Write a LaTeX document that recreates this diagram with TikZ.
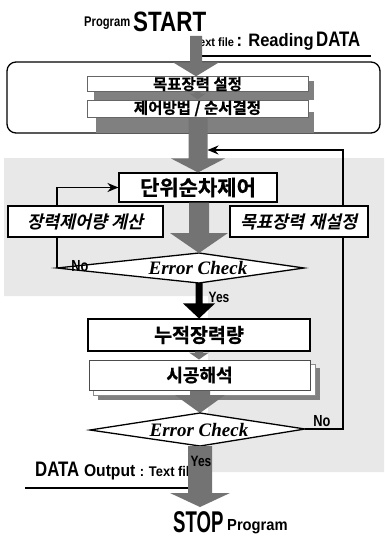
\documentclass[tikz,border=0pt]{standalone}
\usepackage{fontspec}
\setmainfont{Liberation Serif}
\newfontfamily\condA{Liberation Sans Bold}[FakeStretch=0.8]
\newfontfamily\condB{Liberation Sans Bold}[FakeStretch=0.92]
\newfontfamily\condC{Liberation Sans Bold}[FakeStretch=0.62]
\newfontfamily\kr{Noto Sans CJK KR Bold}[FakeBold=0.8]
\newfontfamily\krit{Noto Sans CJK KR Bold}[FakeSlant=0.22]
\usetikzlibrary{arrows.meta,calc}
\newcommand\varrow[6]{%
  \path #2 coordinate (va) #3 coordinate (vb);
  \fill[#1] ($(va -| vb)+(-#4,0)$) -- ($(vb)+(-#4,-#6)$) -- ($(vb)+(-#5,-#6)$) -- (vb)
    -- ($(vb)+(#5,-#6)$) -- ($(vb)+(#4,-#6)$) -- ($(va -| vb)+(#4,0)$) -- cycle;}
\begin{document}
\begin{tikzpicture}[x=1pt,y=-1pt,
  bx/.style={draw=black, fill=white, line width=1.1pt, inner sep=0pt},
  lbx/.style={draw=black!60, fill=white, line width=1pt, inner sep=0pt},
  shd/.style={fill=black!50},
  garr/.style={fill=black!55},
  barr/.style={fill=black},
  lnk/.style={draw=black, line width=1.6pt},
  dia/.style={draw=black, fill=white, line width=1.3pt},
  txt/.style={inner sep=0pt},
  ec/.style={inner sep=0pt, font=\bfseries\itshape\fontsize{19}{19}\selectfont}]
\useasboundingbox (0,0) rectangle (384,543);
\fill[white] (0,0) rectangle (384,543);
% stippled background
\fill[black!9] (4,158) -- (384,158) -- (384,472) -- (208,472) -- (208,296) -- (4,296) -- cycle;

% header texts
\node[txt, anchor=base west] (prog1) at (84,27) {\condA\fontsize{14}{14}\selectfont Program};
\node[txt, anchor=base west] (start) at (133,32) {\condA\fontsize{28}{28}\selectfont START};
\node[txt, anchor=base west] (rdata) at (193,47) {\condB{\fontsize{12}{12}\selectfont Text file} {\fontsize{18}{18}\selectfont : Reading} {\condA\fontsize{21}{21}\selectfont DATA}};
\draw[line width=1.2pt] (193,56) -- (371,56);

% top frame
\draw[line width=1.3pt, fill=white, rounded corners=9pt] (7,62) rectangle (380,133);
\fill[shd] (94,81) rectangle (314,100);
\fill[shd] (96,112) rectangle (314,133);
\node[lbx, minimum width=221pt, minimum height=14pt] (b1) at (197.5,84) {\kr\fontsize{15.5}{15.5}\selectfont 목표장력 설정};
\node[lbx, minimum width=221pt, minimum height=17pt] (b2) at (197.5,108.5) {\kr\fontsize{15.5}{15.5}\selectfont 제어방법 / 순서결정};

\coordinate (s0) at (196,36);
\varrow{garr}{(s0)}{(b1.north -| s0)}{6}{23}{14}
\varrow{garr}{(b1.south)}{(b2.north)}{3}{8}{6}

% unit control box and arrow into it
\node[bx, minimum width=158pt, minimum height=29pt] (bu) at (198,187.5) {\kr\fontsize{21}{21}\selectfont 단위순차제어};
\varrow{garr}{(b2.south -| bu.north)}{(bu.north)}{9.5}{27}{14}
\coordinate (jn) at (207.5,150);

% diamonds
\coordinate (d1w) at (57,268); \coordinate (d1n) at (199,253);
\coordinate (d1e) at (304,268); \coordinate (d1s) at (199,283);
\coordinate (d2w) at (90,430); \coordinate (d2n) at (200,413);
\coordinate (d2e) at (305,429); \coordinate (d2s) at (200,446);
\coordinate (rt) at (343,150);

% feedback lines
\draw[lnk, -{Stealth[length=11pt,width=9pt]}] (d1w) |- (bu.west);
\draw[lnk, -{Stealth[length=11pt,width=9pt]}] (d2e) -| (rt) -- (jn);

\node[bx, minimum width=155pt, minimum height=31pt] (bl) at (85.5,221.5) {\krit\fontsize{17.5}{17.5}\selectfont 장력제어량 계산};
\node[bx, minimum width=138pt, minimum height=31pt] (br) at (299,221.5) {\krit\fontsize{17.5}{17.5}\selectfont 목표장력 재설정};

\filldraw[dia] (d1w) -- (d1n) -- (d1e) -- (d1s) -- cycle;
\node[ec] (e1) at (198,268) {Error Check};
\varrow{garr}{(bu.south -| d1n)}{(d1n)}{10}{29}{20}

% lower boxes
\node[bx, minimum width=222pt, minimum height=32pt] (bn) at (199,335) {\kr\fontsize{19.5}{19.5}\selectfont 누적장력량};
\varrow{barr}{(d1s)}{(d1s |- bn.north)}{3.5}{16}{15}

\fill[shd] (98,368) rectangle (320,400);
\filldraw[draw=black!45, fill=white, line width=0.8pt] (93,364) rectangle (315,395);
\node[lbx, draw=black!70, minimum width=221pt, minimum height=30pt] (bs) at (199.5,375) {\kr\fontsize{18}{18}\selectfont 시공해석};
\varrow{garr}{(bn.south)}{(bn.south |- bs.north)}{4}{10}{7}
\varrow{garr}{(bs.south -| d2n)}{(d2n)}{10}{25}{18}

\filldraw[dia] (d2w) -- (d2n) -- (d2e) -- (d2s) -- cycle;
\node[ec] (e2) at (199,430) {Error Check};

% labels
\node[txt] (no1) at (80,266) {\condA\fontsize{16}{16}\selectfont No};
\node[txt] (no2) at (322,421) {\condA\fontsize{16}{16}\selectfont No};
\node[txt] (yes1) at (219,297.5) {\condA\fontsize{15}{15}\selectfont Yes};

% output
\node[txt, anchor=base west] (dout) at (35,476) {\condA\fontsize{21}{21}\selectfont DATA {\condB\fontsize{17}{17}\selectfont Output} {\condB\fontsize{14}{14}\selectfont : Text file}};
\draw[line width=1.2pt] (25,488) -- (200,488);
\coordinate (stopc) at (200,507);
\varrow{garr}{(d2s)}{(stopc)}{12}{30}{14}
\node[txt] (yes2) at (201,461) {\condA\fontsize{15}{15}\selectfont Yes};
\node[txt, anchor=base west] (stop) at (173,532) {\condC\fontsize{30}{30}\selectfont STOP};
\node[txt, anchor=base west] (prog2) at (227,530) {\condB\fontsize{16}{16}\selectfont Program};
\end{tikzpicture}
\end{document}
